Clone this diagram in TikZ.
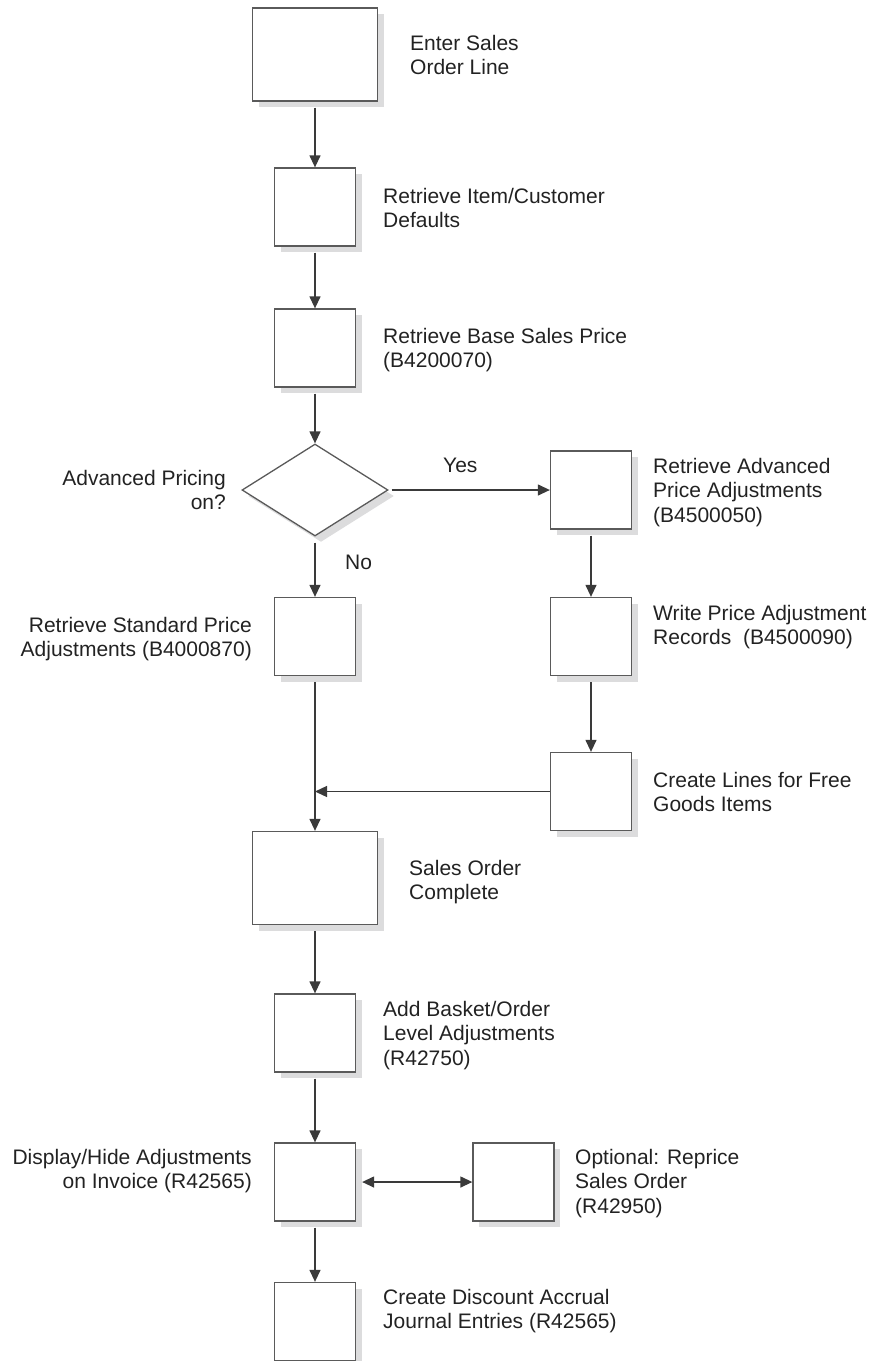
\documentclass[tikz,border=0pt]{standalone}
\usepackage{fontspec}
\setmainfont{Liberation Sans}
\usetikzlibrary{shapes.geometric,arrows.meta,shadows}

\definecolor{inkline}{HTML}{3A3A3A}
\definecolor{boxedge}{HTML}{5A5A5A}
\definecolor{shade}{HTML}{DCDCDD}
\definecolor{txt}{HTML}{222222}

% multi-line label whose reference point is the first baseline
\newcommand{\lbl}[2]{\begin{tabular}[t]{@{}#1@{}}#2\end{tabular}}

\begin{document}
\begin{tikzpicture}[x=1pt,y=-1pt,
  every node/.style={font=\fontsize{21}{24.5}\selectfont, text=txt},
  boxshadow/.style={drop shadow={shadow xshift=6pt, shadow yshift=-6pt, fill=shade, opacity=1}},
  procbox/.style={draw=boxedge, line width=1.3pt, fill=white, inner sep=0pt,
    minimum width=81pt, minimum height=78pt, boxshadow},
  bigbox/.style={procbox, minimum width=125pt, minimum height=93pt},
  decision/.style={diamond, aspect=1.587, draw=boxedge, line width=1.3pt, fill=white,
    inner sep=0pt, minimum width=146pt, minimum height=92pt, boxshadow},
  lefttext/.style={anchor=base west, inner sep=0pt},
  righttext/.style={anchor=base east, inner sep=0pt},
  tip/.tip={Triangle[length=12pt,width=11pt]},
  flow/.style={draw=inkline, line width=1.3pt, -tip},
  gap/.style={shorten <=6pt},
  both/.style={draw=inkline, line width=1.3pt, tip-tip}
]
\useasboundingbox (0,0) rectangle (873,1361);

% main column
\node[bigbox]  (enter)    at (315,54.5)  {};
\node[procbox] (defaults) at (315,207)   {};
\node[procbox] (base)     at (315,348)   {};
\node[decision] (adv)     at (315,490)   {};
\node[procbox] (std)      at (315,636.5) {};
\node[bigbox]  (complete) at (315,878)   {};
\node[procbox] (basket)   at (315,1033)  {};
\node[procbox] (display)  at (315,1182)  {};
\node[procbox] (accrual)  at (315,1321.5){};

% advanced pricing branch
\node[procbox] (advadj)   at (591,490)   {};
\node[procbox] (writeadj) at (591,636.5) {};
\node[procbox] (freegds)  at (591,791.5) {};

% optional repricing
\node[procbox] (reprice)  at (513.5,1182){};

% labels
\node[lefttext] (tEnter) at (410,50)  {\lbl{l}{Enter Sales\\Order Line}};
\node[lefttext] (tDef)   at (383,203) {\lbl{l}{Retrieve Item/Customer\\Defaults}};
\node[lefttext] (tBase)  at (383,343) {\lbl{l}{Retrieve Base Sales Price\\(B4200070)}};
\node[righttext] (tAdv)  at (226,485) {\lbl{r}{Advanced Pricing\\on?}};
\node[lefttext] (tYes)   at (443,472) {Yes};
\node[lefttext] (tNo)    at (345,569) {No};
\node[righttext] (tStd)  at (252,632) {\lbl{r}{Retrieve Standard Price\\Adjustments (B4000870)}};
\node[lefttext] (tAdvA)  at (653,473) {\lbl{l}{Retrieve Advanced\\Price Adjustments\\(B4500050)}};
\node[lefttext] (tWrite) at (653,620) {\lbl{l}{Write Price Adjustment\\Records\ \ (B4500090)}};
\node[lefttext] (tFree)  at (653,787) {\lbl{l}{Create Lines for Free\\Goods Items}};
\node[lefttext] (tComp)  at (409,875) {\lbl{l}{Sales Order\\Complete}};
\node[lefttext] (tBask)  at (383,1016){\lbl{l}{Add Basket/Order\\Level Adjustments\\(R42750)}};
\node[righttext] (tDisp) at (252,1164){\lbl{r}{Display/Hide Adjustments\\on Invoice (R42565)}};
\node[lefttext] (tRep)   at (575,1164){\lbl{l}{Optional: Reprice\\Sales Order\\(R42950)}};
\node[lefttext] (tAcc)   at (383,1304){\lbl{l}{Create Discount Accrual\\Journal Entries (R42565)}};

% connectors
\draw[flow,gap] (enter) -- (defaults);
\draw[flow,gap] (defaults) -- (base);
\draw[flow,gap] (base) -- (adv);
\draw[flow,gap] (adv) -- (std);
\draw[flow,shorten <=3pt] (adv) -- (advadj);
\draw[flow,gap] (advadj) -- (writeadj);
\draw[flow,gap] (writeadj) -- (freegds);
\draw[flow,gap] (std) -- (complete);
\draw[flow] (freegds.west) -- (freegds.west -| std.south);
\draw[flow,gap] (complete) -- (basket);
\draw[flow,gap] (basket) -- (display);
\draw[flow,gap] (display) -- (accrual);
\draw[both,shorten <=6pt] (display) -- (reprice);
\end{tikzpicture}
\end{document}
